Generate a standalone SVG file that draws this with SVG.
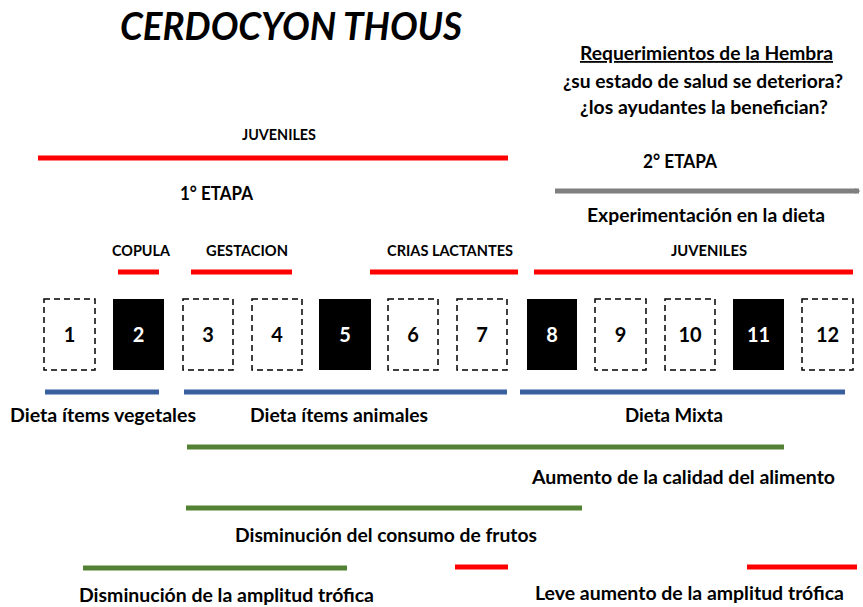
<svg xmlns="http://www.w3.org/2000/svg" width="863" height="607" viewBox="0 0 863 607">
<style>
  text { font-family: Lato, "Liberation Sans", sans-serif; font-weight: bold; fill: #000; }
  .t14 { font-size: 15px; }
  .t17 { font-size: 18px; }
  .t19 { font-size: 19px; }
  .num { font-size: 20px; font-weight: bold; text-anchor: middle; }
  .box { fill: #fff; stroke: #000; stroke-width: 1.5; stroke-dasharray: 6 4; }
  .boxk { fill: #000; stroke: none; }
  .numw { fill: #fff; }
  .red { stroke: #ff0000; stroke-width: 5; fill: none; }
  .blue { stroke: #3a5f9f; stroke-width: 5; fill: none; }
  .green { stroke: #548235; stroke-width: 5; fill: none; }
  .gray { stroke: #7f7f7f; stroke-width: 5; fill: none; }
</style>
<defs>
  <marker id="arr" viewBox="0 0 4 4" refX="3" refY="2" markerWidth="1.2" markerHeight="1.2" orient="auto" markerUnits="strokeWidth">
    <path d="M0,0 L4,2 L0,4 z" fill="#7f7f7f"/>
  </marker>
</defs>
<rect width="863" height="607" fill="#fff"/>

<g id="title">
  <text x="120" y="40" font-size="39" font-style="italic" textLength="342" lengthAdjust="spacingAndGlyphs">CERDOCYON THOUS</text>
</g>

<g id="labels">
  <text class="t14" x="242" y="140" textLength="74" lengthAdjust="spacingAndGlyphs">JUVENILES</text>
  <text class="t17" x="180" y="200" textLength="73" lengthAdjust="spacingAndGlyphs">1° ETAPA</text>
  <text class="t17" x="580" y="60" textLength="253" lengthAdjust="spacingAndGlyphs" text-decoration="underline">Requerimientos de la Hembra</text>
  <text class="t17" x="563" y="88" textLength="280" lengthAdjust="spacingAndGlyphs">¿su estado de salud se deteriora?</text>
  <text class="t17" x="580" y="114" textLength="248" lengthAdjust="spacingAndGlyphs">¿los ayudantes la benefician?</text>
  <text class="t17" x="643" y="168" textLength="74" lengthAdjust="spacingAndGlyphs">2° ETAPA</text>
  <text class="t17" x="587" y="222" textLength="238" lengthAdjust="spacingAndGlyphs">Experimentación en la dieta</text>
  <text class="t14" x="112" y="256" textLength="58" lengthAdjust="spacingAndGlyphs">COPULA</text>
  <text class="t14" x="206" y="256" textLength="82" lengthAdjust="spacingAndGlyphs">GESTACION</text>
  <text class="t14" x="387" y="256" textLength="126" lengthAdjust="spacingAndGlyphs">CRIAS LACTANTES</text>
  <text class="t14" x="671" y="256" textLength="76" lengthAdjust="spacingAndGlyphs">JUVENILES</text>
  <text class="t19" x="10" y="422" textLength="186" lengthAdjust="spacingAndGlyphs">Dieta ítems vegetales</text>
  <text class="t19" x="250" y="422" textLength="178" lengthAdjust="spacingAndGlyphs">Dieta ítems animales</text>
  <text class="t19" x="625" y="422" textLength="98" lengthAdjust="spacingAndGlyphs">Dieta Mixta</text>
  <text class="t19" x="532" y="484" textLength="303" lengthAdjust="spacingAndGlyphs">Aumento de la calidad del alimento</text>
  <text class="t19" x="235" y="542" textLength="302" lengthAdjust="spacingAndGlyphs">Disminución del consumo de frutos</text>
  <text class="t19" x="79" y="602" textLength="295" lengthAdjust="spacingAndGlyphs">Disminución de la amplitud trófica</text>
  <text class="t19" x="535" y="600" textLength="309" lengthAdjust="spacingAndGlyphs">Leve aumento de la amplitud trófica</text>
</g>

<g id="box1"><rect class="box" x="44" y="299" width="51" height="71"/><text class="num" x="69.5" y="342">1</text></g>
<g id="box2"><rect class="boxk" x="113" y="299" width="51" height="71"/><text class="num numw" x="138.5" y="342">2</text></g>
<g id="box3"><rect class="box" x="183" y="299" width="50" height="71"/><text class="num" x="208" y="342">3</text></g>
<g id="box4"><rect class="box" x="252" y="299" width="50" height="71"/><text class="num" x="277" y="342">4</text></g>
<g id="box5"><rect class="boxk" x="319" y="299" width="52" height="71"/><text class="num numw" x="345" y="342">5</text></g>
<g id="box6"><rect class="box" x="388" y="299" width="50" height="71"/><text class="num" x="413" y="342">6</text></g>
<g id="box7"><rect class="box" x="457" y="299" width="50" height="71"/><text class="num" x="482" y="342">7</text></g>
<g id="box8"><rect class="boxk" x="527" y="299" width="50" height="71"/><text class="num numw" x="552" y="342">8</text></g>
<g id="box9"><rect class="box" x="595" y="299" width="51" height="71"/><text class="num" x="620.5" y="342">9</text></g>
<g id="box10"><rect class="box" x="665" y="299" width="50" height="71"/><text class="num" x="690" y="342">10</text></g>
<g id="box11"><rect class="boxk" x="733" y="299" width="51" height="71"/><text class="num numw" x="758.5" y="342">11</text></g>
<g id="box12"><rect class="box" x="802" y="299" width="51" height="71"/><text class="num" x="827.5" y="342">12</text></g>

<g id="connectors">
  <line class="red" x1="38" y1="158" x2="508" y2="158"/>
  <line class="gray" x1="555" y1="191" x2="859" y2="191" marker-end="url(#arr)"/>
  <line class="red" x1="118" y1="272" x2="159" y2="272"/>
  <line class="red" x1="191" y1="272" x2="292" y2="272"/>
  <line class="red" x1="370" y1="272" x2="518" y2="272"/>
  <line class="red" x1="534" y1="272" x2="853" y2="272"/>
  <line class="blue" x1="45" y1="392" x2="159" y2="392"/>
  <line class="blue" x1="184" y1="392" x2="507" y2="392"/>
  <line class="blue" x1="520" y1="392" x2="845" y2="392"/>
  <line class="green" x1="187" y1="447" x2="784" y2="447"/>
  <line class="green" x1="186" y1="508" x2="582" y2="508"/>
  <line class="green" x1="83" y1="568" x2="347" y2="568"/>
  <line class="red" x1="455" y1="567" x2="508" y2="567"/>
  <line class="red" x1="747" y1="567" x2="857" y2="567"/>
</g>
</svg>
